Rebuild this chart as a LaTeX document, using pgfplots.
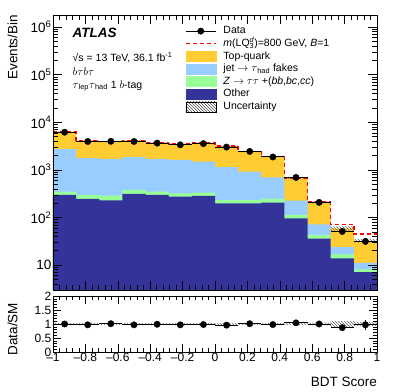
\documentclass[border=0pt]{standalone}
\usepackage{pgfplots}
\pgfplotsset{compat=1.18}
\usepackage{pgfplotstable}
\usetikzlibrary{patterns}
\usepackage{fontspec}
\setmainfont{Liberation Sans}
\definecolor{topq}{HTML}{FFCC33}
\definecolor{fakec}{HTML}{99CCFF}
\definecolor{zc}{HTML}{99FF99}
\definecolor{othc}{HTML}{333399}

% cumulative stack, bin left edges, closed down to y=1 (below the axis)
\pgfplotstableread{
x other zc fc tot
-1 1 1 1 1
-1 298 350 2720 6200
-0.857143 245 298 1760 4080
-0.714286 230 288 1680 3950
-0.571429 312 380 1850 4080
-0.428571 298 350 1680 3700
-0.285714 275 323 1620 3470
-0.142857 284 335 1500 3640
0 199 233 1140 3150
0.142857 199 233 923 2430
0.285714 205 245 701 1910
0.428571 96 113 226 668
0.571429 36 43 72 208
0.714286 13.8 16.8 24 59
0.857143 7.1 8.1 11.2 32.5
1 7.1 8.1 11.2 32.5
1 1 1 1 1
}\hist

\pgfplotstableread{
x sig
-1 6300
-0.857143 4150
-0.714286 4000
-0.571429 4150
-0.428571 3750
-0.285714 3520
-0.142857 3700
0 3200
0.142857 2450
0.285714 1930
0.428571 680
0.571429 212
0.714286 72
0.857143 45
1 45
}\sigtab

% uncertainty band outline (upper edge, then lower edge back)
\pgfplotstableread{
x y r
-1 6386 1.03
-0.857143 4202 1.03
-0.714286 4069 1.03
-0.571429 4202 1.03
-0.428571 3811 1.03
-0.285714 3574 1.03
-0.142857 3749 1.03
0 3245 1.03
0.142857 2503 1.03
0.285714 1967 1.03
0.428571 695 1.04
0.571429 218 1.05
0.714286 64.9 1.10
0.857143 35.1 1.08
1 35.1 1.08
1 29.9 0.92
0.857143 53.1 0.90
0.714286 198 0.95
0.571429 641 0.96
0.428571 1853 0.97
0.285714 2357 0.97
0.142857 3056 0.97
0 3531 0.97
-0.142857 3366 0.97
-0.285714 3589 0.97
-0.428571 3958 0.97
-0.571429 3832 0.97
-0.714286 3958 0.97
-0.857143 6014 0.97
-1 6014 0.97
}\band

\pgfplotstableread{
xc data ex ey ratio rey
-0.928571 6200 0.0714286 78.7 1.00 0.013
-0.785714 3960 0.0714286 62.9 0.97 0.015
-0.642857 3990 0.0714286 63.2 1.01 0.016
-0.5 3960 0.0714286 62.9 0.97 0.015
-0.357143 3660 0.0714286 60.5 0.99 0.016
-0.214286 3370 0.0714286 58.1 0.97 0.017
-0.071429 3570 0.0714286 59.7 0.98 0.016
0.071429 3020 0.0714286 55.0 0.96 0.017
0.214286 2450 0.0714286 49.5 1.01 0.020
0.357143 1870 0.0714286 43.2 0.98 0.023
0.5 695 0.0714286 26.4 1.04 0.040
0.642857 208 0.0714286 14.4 1.00 0.069
0.785714 51 0.0714286 7.1 0.87 0.121
0.928571 31.5 0.0714286 5.6 0.97 0.173
}\datatab

\begin{document}
\begin{tikzpicture}
\begin{axis}[
  at={(53pt,101pt)}, anchor=south west, scale only axis,
  width=324pt, height=275pt,
  xmin=-1, xmax=1, ymode=log, ymin=3, ymax=1.8e6,
  xtick={-1,-0.8,-0.6,-0.4,-0.2,0,0.2,0.4,0.6,0.8,1}, xticklabels={},
  minor x tick num=4,
  ytick={10,100,1000,10000,100000,1000000},
  yticklabels={10,10\textsuperscript{2},10\textsuperscript{3},10\textsuperscript{4},10\textsuperscript{5},10\textsuperscript{6}},
  minor ytick={3,4,5,6,7,8,9,20,30,40,50,60,70,80,90,200,300,400,500,600,700,800,900,2000,3000,4000,5000,6000,7000,8000,9000,20000,30000,40000,50000,60000,70000,80000,90000,200000,300000,400000,500000,600000,700000,800000,900000},
  yticklabel style={font=\fontsize{13.5}{15}\selectfont, anchor=east, inner sep=1.5pt},
  tick align=inside, major tick length=9pt, minor tick length=5pt,
  tick style={black, line width=0.6pt},
  axis line style={line width=0.8pt},
  axis on top,
  ylabel={Events/Bin},
  ylabel style={at={(axis description cs:-0.125,1)}, anchor=east, font=\fontsize{13.5}{15}\selectfont, inner sep=0pt},
  legend style={at={(rel axis cs:0.407,0.965)}, anchor=north west, draw=none, fill=none,
    font=\fontsize{10.5}{12}\selectfont, row sep=0pt, column sep=7pt, inner sep=0pt,
    nodes={inner sep=0pt, text height=9pt, text depth=3.6pt}},
  legend cell align=left,
]
\addlegendimage{legend image code/.code={\draw[black, line width=1pt] (0pt,0pt) -- (30pt,0pt); \fill[black] (15pt,0pt) circle (3.2pt);}}
\addlegendentry{Data}
\addlegendimage{legend image code/.code={\draw[red, line width=1.4pt, dash pattern=on 4pt off 3pt] (0pt,0pt) -- (30pt,0pt);}}
\addlegendentry{\textit{m}(LQ\rlap{\textsuperscript{\textit{d}}}\textsubscript{3})=800 GeV, \textit{B}=1}
\addlegendimage{legend image code/.code={\fill[topq] (0pt,-5pt) rectangle (30pt,5pt);}}
\addlegendentry{Top-quark}
\addlegendimage{legend image code/.code={\fill[fakec] (0pt,-5pt) rectangle (30pt,5pt);}}
\addlegendentry{jet $\rightarrow$ $\tau$\textsubscript{had} fakes}
\addlegendimage{legend image code/.code={\fill[zc] (0pt,-5pt) rectangle (30pt,5pt);}}
\addlegendentry{\textit{Z} $\rightarrow$ $\tau\tau$ +(\textit{bb},\textit{bc},\textit{cc})}
\addlegendimage{legend image code/.code={\fill[othc] (0pt,-5pt) rectangle (30pt,5pt);}}
\addlegendentry{Other}
\addlegendimage{legend image code/.code={\fill[pattern=north west lines, pattern color=black!70] (0pt,-5pt) rectangle (30pt,5pt);}}
\addlegendentry{Uncertainty}

\addplot[const plot, fill=topq, draw=none, forget plot] table[x=x, y=tot] {\hist};
\addplot[const plot, fill=fakec, draw=none, forget plot] table[x=x, y=fc] {\hist};
\addplot[const plot, fill=zc, draw=none, forget plot] table[x=x, y=zc] {\hist};
\addplot[const plot, fill=othc, draw=none, forget plot] table[x=x, y=other] {\hist};
\addplot[const plot, draw=none, pattern=north west lines, pattern color=black!60, forget plot] table[x=x, y=y] {\band};
\addplot[const plot, red, line width=1.4pt, dash pattern=on 4pt off 3pt, forget plot] table[x=x, y=sig] {\sigtab};
\addplot[black, only marks, mark=*, mark size=3.2pt, forget plot,
  error bars/.cd, x dir=both, x explicit, y dir=both, y explicit,
  error bar style={line width=1pt, black}, error mark=none]
  table[x=xc, y=data, x error=ex, y error=ey] {\datatab};

\node[anchor=west, font=\fontsize{13.5}{15}\bfseries\itshape\selectfont] at (rel axis cs:0.05,0.935) {ATLAS};
\node[anchor=west, font=\fontsize{10.5}{12}\selectfont] at (rel axis cs:0.05,0.845) {√s = 13 TeV, 36.1 fb\textsuperscript{-1}};
\node[anchor=west, font=\fontsize{10.5}{12}\selectfont] at (rel axis cs:0.05,0.793) {$b\tau b\tau$};
\node[anchor=west, font=\fontsize{10.5}{12}\selectfont] at (rel axis cs:0.05,0.742) {$\tau$\textsubscript{lep}$\tau$\textsubscript{had} 1 $b$-tag};
\end{axis}

\begin{axis}[
  at={(53pt,39pt)}, anchor=south west, scale only axis,
  width=324pt, height=56pt,
  xmin=-1, xmax=1, ymin=0, ymax=2,
  xtick={-1,-0.8,-0.6,-0.4,-0.2,0,0.2,0.4,0.6,0.8,1},
  xticklabels={\textendash1,\textendash0.8,\textendash0.6,\textendash0.4,\textendash0.2,0,0.2,0.4,0.6,0.8,1},
  minor x tick num=4,
  ytick={0,0.5,1,1.5,2}, yticklabels={0,0.5,1,1.5,2},
  minor y tick num=4,
  xticklabel style={font=\fontsize{12}{14}\selectfont, inner sep=1pt},
  yticklabel style={font=\fontsize{12}{14}\selectfont, inner sep=1.5pt},
  tick align=inside, major tick length=8pt, minor tick length=4pt,
  tick style={black, line width=0.6pt},
  axis line style={line width=0.8pt},
  axis on top,
  ylabel={Data/SM},
  ylabel style={at={(axis description cs:-0.125,0.41)}, anchor=center, font=\fontsize{13.5}{15}\selectfont, inner sep=0pt},
  xlabel={BDT Score},
  xlabel style={at={(axis description cs:1,-0.54)}, anchor=east, font=\fontsize{13.5}{15}\selectfont, inner sep=0pt},
]
\addplot[const plot, draw=none, pattern=north west lines, pattern color=black!60, forget plot] table[x=x, y=r] {\band};
\addplot[black, only marks, mark=*, mark size=3.2pt,
  error bars/.cd, x dir=both, x explicit, y dir=both, y explicit,
  error bar style={line width=1pt, black}, error mark=none]
  table[x=xc, y=ratio, x error=ex, y error=rey] {\datatab};
\end{axis}
\path (0,0) rectangle (407pt,391pt);
\end{tikzpicture}
\end{document}
